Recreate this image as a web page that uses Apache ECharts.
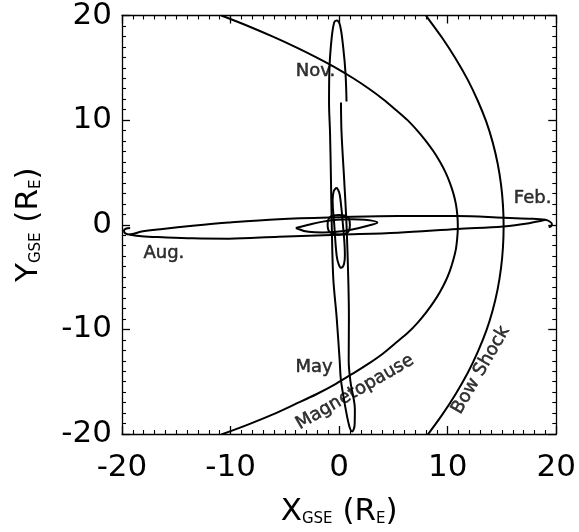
<!DOCTYPE html>
<html><head><meta charset="utf-8">
<script src="https://cdn.jsdelivr.net/npm/echarts@6/dist/echarts.min.js"></script>
<style>html,body{margin:0;padding:0;background:#fff}#c{width:579px;height:532px}</style>
</head><body><div id="c"></div>
<script>
// ---- axis tick labels (R_E) ----
const xTickValues = [-20, -10, 0, 10, 20];
const yTickValues = [-20, -10, 0, 10, 20];

// ---- model boundaries [X_GSE, Y_GSE] ----
const magnetopause = [[-10.85,20.0],[-8.4,19.0],[-6.15,18.0],[-4.05,17.0],[-2.1,16.0],[-0.3,15.0],[1.3,14.0],[2.75,13.0],[4.05,12.0],[5.2,11.0],[6.3,10.0],[7.2,9.0],[8.0,8.0],[8.7,7.0],[9.3,6.0],[9.8,5.0],[10.2,4.0],[10.52,3.0],[10.75,2.0],[10.88,1.0],[10.93,0.0],[10.93,-0.3],[10.87,-1.35],[10.75,-2.35],[10.52,-3.35],[10.2,-4.4],[9.8,-5.4],[9.3,-6.4],[8.7,-7.4],[8.0,-8.4],[7.2,-9.4],[6.3,-10.35],[5.2,-11.3],[4.05,-12.3],[2.75,-13.25],[1.3,-14.2],[-0.3,-15.2],[-2.1,-16.2],[-4.05,-17.15],[-6.15,-18.15],[-8.4,-19.1],[-10.85,-20.05]];
const bowShock = [[8.0,20.0],[8.1,19.85],[9.5,17.85],[10.75,15.85],[11.85,13.85],[12.77,11.85],[13.55,9.85],[14.15,7.85],[14.6,5.85],[14.91,3.85],[15.09,1.85],[15.15,-0.15],[15.09,-2.15],[14.91,-4.15],[14.6,-6.15],[14.15,-8.15],[13.55,-10.15],[12.77,-12.15],[11.85,-14.15],[10.75,-16.15],[9.5,-18.15],[8.1,-20.15]];

// ---- orbit tracks [X_GSE, Y_GSE] ----
const orbitNovMay = [[0.68,11.79],[0.59,14.42],[0.38,16.9],[0.08,19.07],[-0.23,19.53],[-0.45,19.35],[-0.69,17.83],[-0.9,14.73],[-0.93,11.63],[-0.84,8.84],[-0.75,4.19],[-0.68,0.0],[-0.54,-5.12],[-0.23,-8.84],[0.05,-13.0],[0.17,-14.88],[0.6,-17.6],[0.95,-19.3],[1.2,-19.75],[1.42,-19.2],[1.45,-17.7],[1.05,-15.04],[0.88,-13.0],[0.9,-8.84],[0.84,-5.12],[0.68,0.0],[0.47,4.19],[0.22,8.84],[0.17,11.69]];
const hookAug = [[-19.25,-0.3],[-19.6,-0.36],[-19.82,-0.55],[-19.7,-0.82]];
const orbitAugFebUpper = [[-19.3,-0.93],[-18.2,-0.65],[-16.25,-0.4],[-13.5,-0.1],[-10.15,0.21],[-5.57,0.53],[0.0,0.72],[5.41,0.84],[10.9,0.84],[15.12,0.68],[17.5,0.58],[18.99,0.47]];
const hookFeb = [[19.39,0.31],[19.6,0.06],[19.5,-0.16],[19.3,-0.22]];
const orbitAugFebLower = [[-19.3,-0.93],[-18.2,-1.1],[-16.25,-1.2],[-13.5,-1.3],[-10.15,-1.33],[-5.57,-1.14],[0.0,-0.95],[5.41,-0.77],[10.9,-0.4],[15.12,-0.16],[17.5,0.15],[18.99,0.47]];
const innerLoopNS = [[-0.23,3.56],[0.0,3.1],[0.13,2.33],[0.35,0.0],[0.53,-2.95],[0.45,-3.75],[0.17,-4.12],[-0.05,-3.75],[-0.23,-2.95],[-0.45,0.0],[-0.6,2.33],[-0.5,3.2],[-0.23,3.56]];
const innerLoopEW = [[-3.99,-0.31],[-2.82,0.0],[-1.5,0.3],[-0.23,0.47],[1.2,0.52],[2.37,0.47],[3.52,0.21],[2.37,-0.16],[1.2,-0.45],[-0.23,-0.68],[-1.5,-0.75],[-2.82,-0.68],[-3.99,-0.31]];
const perigeeLoop = [[0.99,0.0],[0.8,0.72],[0.0,0.93],[-0.85,0.72],[-1.06,0.0],[-0.85,-0.72],[0.0,-0.93],[0.8,-0.72],[0.99,0.0]];

// ---- annotations ----
const annotationText = ['Nov.', 'May', 'Aug.', 'Feb.', 'Magnetopause', 'Bow Shock'];
const annotationX = [-2.18, -2.3, -16.14, 17.82, 1.45, 13.05];
const annotationY = [14.65, -13.58, -2.7, 2.51, -16.0, -13.9];
const annotationAngle = [0, 0, 0, 0, 30, 60];

const FONT = 'DejaVu Sans';
const BLACK = '#000';

const titleRich = {
  m: {fontFamily: FONT, fontSize: 31, color: BLACK, lineHeight: 36, verticalAlign: 'bottom'},
  s: {fontFamily: FONT, fontSize: 15, color: BLACK, lineHeight: 23, verticalAlign: 'bottom'}
};

function makeAxis(kind, position, ticks, showLabel, title, gap) {
  const ax = {
    type: 'value',
    position: position,
    min: ticks[0],
    max: ticks[ticks.length - 1],
    interval: ticks[1] - ticks[0],
    axisLine: {show: true, onZero: false, lineStyle: {color: BLACK, width: 1.3}},
    axisTick: {show: true, inside: true, length: 8, lineStyle: {color: BLACK, width: 1.3}},
    minorTick: {show: true, splitNumber: 10, length: 4, lineStyle: {color: BLACK, width: 1.1}},
    splitLine: {show: false},
    minorSplitLine: {show: false},
    axisLabel: {show: showLabel, fontFamily: FONT, fontSize: 31, color: BLACK, margin: kind === 'x' ? 18 : 10}
  };
  if (title) {
    ax.name = title;
    ax.nameLocation = 'middle';
    ax.nameGap = gap;
    if (kind === 'y') ax.nameRotate = 90;
    ax.nameTextStyle = {fontFamily: FONT, color: BLACK, rich: titleRich};
  }
  return ax;
}

function lineSeries(data, smooth) {
  return {
    type: 'line', data: data, showSymbol: false, symbol: 'none', smooth: smooth,
    lineStyle: {color: BLACK, width: 2}, silent: true, animation: false, z: 3
  };
}

const hookedUpper = hookAug.concat(orbitAugFebUpper, hookFeb);

const chart = echarts.init(document.getElementById('c'), null, {renderer: 'canvas'});
chart.setOption({
  animation: false,
  backgroundColor: '#fff',
  grid: {left: 122, right: 20, top: 10, bottom: 92, containLabel: false},
  xAxis: [
    makeAxis('x', 'bottom', xTickValues, true, '{m|X}{s|GSE}{m| (R}{s|E}{m|)}', 57),
    makeAxis('x', 'top', xTickValues, false, null, 0)
  ],
  yAxis: [
    makeAxis('y', 'left', yTickValues, true, '{m|Y}{s|GSE}{m| (R}{s|E}{m|)}', 78),
    makeAxis('y', 'right', yTickValues, false, null, 0)
  ],
  series: [
    lineSeries(magnetopause, 0.3),
    lineSeries(bowShock, 0.3),
    lineSeries(orbitNovMay, 0.35),
    lineSeries(hookedUpper, 0.35),
    lineSeries(orbitAugFebLower, 0.35),
    lineSeries(innerLoopNS, 0.4),
    lineSeries(innerLoopEW, 0.4),
    lineSeries(perigeeLoop, 0.4),
    {
      type: 'scatter', symbol: 'circle', symbolSize: 1, silent: true, z: 5,
      itemStyle: {color: 'rgba(0,0,0,0)'},
      label: {show: true, position: 'inside', formatter: '{b}', fontFamily: FONT, fontSize: 18, color: BLACK,
              textBorderColor: BLACK, textBorderWidth: 0.5},
      data: annotationText.map((t, i) => ({name: t, value: [annotationX[i], annotationY[i]], label: {rotate: annotationAngle[i]}}))
    }
  ]
});
</script></body></html>
